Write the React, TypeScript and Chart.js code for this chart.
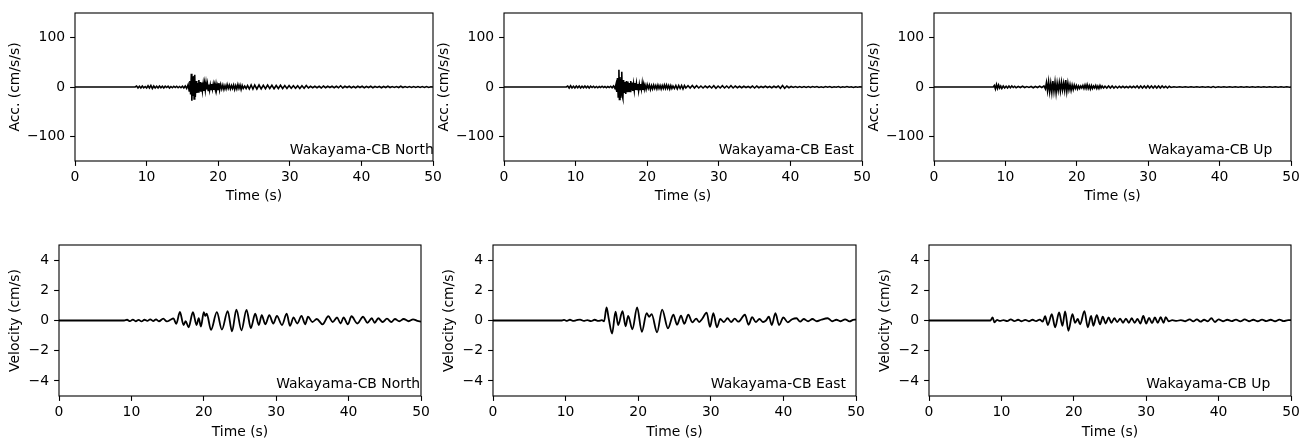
import React, { useEffect, useRef } from 'react';
import { Chart, registerables } from 'chart.js';
Chart.register(...registerables);

const FS = 13.9;
Chart.defaults.font.family = '"DejaVu Sans", sans-serif';
Chart.defaults.font.size = FS;
Chart.defaults.color = '#000';

// ---------- tick values / labels ----------
const timeTicks = [0, 10, 20, 30, 40, 50];
const accTicks = [-100, 0, 100];
const velTicks = [-4, -2, 0, 2, 4];
const stationLabels = ['Wakayama-CB North', 'Wakayama-CB East', 'Wakayama-CB Up'];
const accTitle = 'Acc. (cm/s/s)';
const velTitle = 'Velocity (cm/s)';
const timeTitle = 'Time (s)';
const labelTime = 30;
const accLabelY = -135;
const velLabelY = -4.5;

// ---------- series: [time (s), value] ----------
const accNorth: [number, number][] = [
  [0,0],[8.4,0],[8.6,2],[8.8,-2],[9.0,1.5],[9.2,-2],[9.4,2],[9.6,-1.5],[9.8,1],[10.0,-2],[10.2,2.5],[10.4,-2],[10.6,3],[10.8,-3],[11.0,2],[11.2,-2],[11.4,1.5],[11.6,-2],[11.8,2],[12.0,-1.5],[12.2,1.5],[12.4,-2],[12.6,1.5],[12.8,-1],[13.0,1.5],[13.2,-2],[13.4,1],[13.6,-1.5],[13.8,1.5],[14.0,-1],[14.2,1.5],[14.4,-1.5],[14.6,1],[14.8,-1.5],[15.0,1.5],[15.2,-2],[15.4,2],[15.6,-3],[15.8,5],[15.95,-8],[16.05,12],[16.15,-15],[16.25,27],[16.32,-28],[16.4,20],[16.48,-18],[16.56,22],[16.64,-24],[16.72,25],[16.8,-20],[16.9,12],[17.0,-12],[17.1,8],[17.2,-10],[17.3,14],[17.4,-9],[17.5,10],[17.6,-8],[17.7,9],[17.8,-7],[17.9,6],[18.0,-8],[18.1,7],[18.2,-6],[18.3,8],[18.4,-5],[18.5,6],[18.6,-7],[18.7,5],[18.8,-6],[18.9,4],[19.0,-5],[19.1,6],[19.2,-4],[19.3,5],[19.4,-6],[19.5,4],[19.6,-5],[19.7,6],[19.8,-4],[19.9,3],[20.0,-5],[20.1,8],[20.2,-6],[20.35,5],[20.5,-4],[20.65,4],[20.8,-5],[20.95,3],[21.1,-4],[21.25,5],[21.4,-3],[21.55,4],[21.7,-4],[21.85,3],[22.0,-3],[22.15,4],[22.3,-5],[22.45,3],[22.6,-4],[22.75,5],[22.9,-3],[23.05,4],[23.2,-5],[23.35,3],[23.5,-3],[23.7,2],[23.9,-3],[24.1,3],[24.35,-4],[24.6,4],[24.85,-4],[25.1,4],[25.4,-4],[25.7,4],[26.0,-4],[26.3,3.5],[26.6,-3.5],[26.9,4],[27.2,-3],[27.5,3.5],[27.8,-3.5],[28.1,3],[28.4,-3],[28.7,3.5],[29.0,-3],[29.3,3],[29.6,-3],[29.9,3],[30.2,-2.5],[30.5,2.5],[30.8,-2.5],[31.1,2.5],[31.4,-3],[31.7,2.5],[32.0,-2.5],[32.3,3],[32.6,-2],[32.9,1.5],[33.2,-1.5],[33.5,1.5],[33.8,-1.5],[34.1,1.5],[34.4,-2],[34.7,2],[35.0,-1.5],[35.3,1.5],[35.6,-1],[35.9,1.5],[36.2,-1.5],[36.5,1.5],[36.8,-1.5],[37.1,2.5],[37.4,-2],[37.7,1.5],[38.0,-1],[38.3,1.5],[38.6,-1.5],[38.9,1],[39.2,-1.5],[39.5,1.5],[39.8,-1],[40.1,1.5],[40.4,-1.5],[40.7,1],[41.0,-1],[41.3,1.5],[41.6,-1.5],[41.9,1],[42.2,-1],[42.5,1],[42.8,-1.5],[43.1,1],[43.4,-1],[43.7,1.5],[44.0,-1],[44.3,1],[44.6,-1],[44.9,1],[45.2,-1],[45.5,1.5],[45.8,-1],[46.1,1],[46.4,-1],[46.7,1],[47.0,-1],[47.3,1],[47.6,-1],[47.9,1],[48.2,-1],[48.5,1],[48.8,-1],[49.1,1],[49.4,-1],[49.7,0.5],[50,0]
];

const accEast: [number, number][] = [
  [0,0],[8.7,0],[8.9,2],[9.1,-2],[9.3,2.5],[9.5,-2],[9.7,1.5],[9.9,-2],[10.1,2],[10.3,-1.5],[10.5,2],[10.7,-2],[10.9,1.5],[11.1,-1.5],[11.3,2],[11.5,-1.5],[11.7,1.5],[11.9,-2],[12.1,1.5],[12.3,-1],[12.5,1.5],[12.7,-1.5],[12.9,1],[13.1,-1.5],[13.3,1],[13.5,-1],[13.7,1.5],[13.9,-1],[14.1,1],[14.3,-1.5],[14.5,1],[14.7,-1],[14.9,1.5],[15.1,-1.5],[15.3,2],[15.5,-3],[15.65,6],[15.75,-10],[15.85,18],[15.95,-20],[16.05,35],[16.12,-25],[16.2,20],[16.28,-22],[16.36,15],[16.45,31],[16.52,-18],[16.6,-23],[16.7,14],[16.8,-12],[16.9,10],[17.0,-14],[17.1,12],[17.2,-9],[17.3,11],[17.4,-10],[17.5,8],[17.6,-9],[17.7,12],[17.8,-7],[17.9,9],[18.0,-8],[18.1,6],[18.2,-7],[18.3,8],[18.4,-6],[18.5,7],[18.6,-5],[18.7,6],[18.8,-7],[18.9,5],[19.0,-5],[19.1,6],[19.2,-4],[19.3,8],[19.4,-6],[19.5,5],[19.6,-4],[19.7,4],[19.85,-5],[20.0,5],[20.15,-3],[20.3,4],[20.45,-5],[20.6,3],[20.75,-4],[20.9,4],[21.05,-3],[21.2,3],[21.35,-4],[21.5,4],[21.65,-3],[21.8,3],[21.95,-4],[22.1,3],[22.25,-3],[22.4,4],[22.55,-3],[22.7,4],[22.85,-3],[23.0,3],[23.15,-4],[23.3,3],[23.45,-3],[23.6,2],[23.8,-3],[24.0,3],[24.2,-4],[24.4,3],[24.6,-3],[24.8,3],[25.0,-4],[25.2,3],[25.4,-2],[25.7,2.5],[26.0,-2],[26.3,3],[26.6,-2],[26.9,2.5],[27.2,-2],[27.5,2],[27.8,-2],[28.1,2],[28.4,-1.5],[28.7,2],[29.0,-2],[29.3,2.5],[29.6,-2.5],[29.9,2],[30.2,-2],[30.5,2.5],[30.8,-2],[31.1,2],[31.4,-2],[31.7,2.5],[32.0,-2],[32.3,2],[32.6,-1.5],[32.9,1.5],[33.2,-1.5],[33.5,1.5],[33.8,-1],[34.1,1],[34.4,-1.5],[34.7,2],[35.0,-2],[35.3,2],[35.6,-1.5],[35.9,1],[36.2,-1],[36.5,1.5],[36.8,-1],[37.1,1],[37.4,-1.5],[37.7,1.5],[38.0,-1],[38.3,2],[38.6,-2.5],[38.9,3],[39.2,-2.5],[39.5,2],[39.8,-1.5],[40.1,1],[40.4,-1],[40.7,1],[41.0,-1],[41.3,1],[41.6,-1],[41.9,1],[42.2,-1],[42.5,1],[42.8,-1],[43.1,1],[43.4,-0.5],[43.7,1],[44.0,-1],[44.3,0.5],[44.6,-1],[44.9,1],[45.2,-0.5],[45.5,1],[45.8,-1],[46.1,0.5],[46.4,-0.5],[46.7,1],[47.0,-1],[47.3,0.5],[47.6,-0.5],[47.9,1],[48.2,-0.5],[48.5,0.5],[48.8,-1],[49.1,0.5],[49.4,-0.5],[49.7,0.5],[50,0]
];

const accUp: [number, number][] = [
  [0,0],[8.3,0],[8.45,3],[8.6,-4],[8.75,5],[8.9,-3],[9.05,4],[9.2,-2],[9.35,2],[9.5,-3],[9.7,2],[9.9,-2],[10.1,1.5],[10.3,-2],[10.5,2],[10.7,-1.5],[10.9,2],[11.1,-1],[11.3,1.5],[11.5,-1.5],[11.8,1],[12.1,-1],[12.4,1.5],[12.7,-1],[13.0,1],[13.3,-1],[13.6,1],[13.9,-1.5],[14.2,1],[14.5,-1],[14.8,1.5],[15.1,-1],[15.4,2],[15.6,-4],[15.75,9],[15.9,-8],[16.05,11],[16.2,-10],[16.35,8],[16.5,-11],[16.65,12],[16.8,-9],[16.95,10],[17.1,-12],[17.25,8],[17.4,-7],[17.55,9],[17.7,-8],[17.85,10],[18.0,-6],[18.15,8],[18.3,-7],[18.45,14],[18.6,-9],[18.75,8],[18.9,-6],[19.05,5],[19.2,-7],[19.35,4],[19.5,-5],[19.65,4],[19.8,-3],[19.95,3],[20.1,-4],[20.25,2],[20.4,-3],[20.55,2],[20.7,-2],[20.85,3],[21.0,-3],[21.15,4],[21.3,-3],[21.45,5],[21.6,-3],[21.75,3],[21.9,-4],[22.05,3],[22.2,-3],[22.35,2],[22.5,-2],[22.65,3],[22.8,-3],[22.95,2],[23.1,-3],[23.25,3],[23.4,-2],[23.55,2],[23.75,-2],[23.95,1.5],[24.2,-2],[24.45,2],[24.7,-2],[24.95,2],[25.2,-2],[25.45,1.5],[25.7,-2],[25.95,1.5],[26.2,-1.5],[26.45,1.5],[26.7,-1.5],[26.95,1],[27.2,-1.5],[27.45,1.5],[27.7,-1.5],[27.95,1.5],[28.2,-1.5],[28.45,2],[28.7,-2],[28.95,2],[29.2,-2],[29.45,2],[29.7,-2],[29.95,2.5],[30.2,-2],[30.45,2],[30.7,-2],[30.95,2],[31.2,-2],[31.45,2],[31.7,-2],[31.95,2],[32.2,-1.5],[32.45,1.5],[32.7,-2],[32.95,1.5],[33.2,-1],[33.6,0.5],[34.0,-0.5],[34.4,0.5],[34.8,-0.5],[35.2,0.5],[35.6,-0.5],[36.0,0.5],[36.4,-0.5],[36.8,0.5],[37.2,-0.5],[37.6,0.5],[38.0,-0.5],[38.4,0.5],[38.8,-1],[39.1,1],[39.4,-1],[39.8,0.5],[40.2,-0.5],[40.6,0.5],[41.0,-0.5],[41.4,0.5],[41.8,-0.5],[42.2,0.5],[42.6,-0.5],[43.0,0.5],[43.4,-0.5],[43.8,0.5],[44.2,-0.5],[44.6,0.5],[45.0,-0.5],[45.4,0.5],[45.8,-0.5],[46.2,0.5],[46.6,-0.5],[47.0,0.5],[47.4,-0.5],[47.8,0.5],[48.2,-0.5],[48.6,0.5],[49.0,-0.5],[49.4,0.5],[49.8,-0.5],[50,0]
];

const velNorth: [number, number][] = [
  [0,0],[9.0,0],[9.4,0.05],[9.8,-0.04],[10.2,0.06],[10.6,-0.05],[11.0,0.04],[11.4,-0.06],[11.8,0.05],[12.2,-0.03],[12.6,0.08],[13.0,-0.04],[13.4,0.07],[13.8,-0.05],[14.4,0.12],[14.9,-0.06],[15.4,0.05],[15.8,0.14],[16.2,-0.22],[16.7,0.57],[17.2,-0.3],[17.5,-0.05],[17.9,-0.45],[18.5,0.55],[19.0,-0.3],[19.3,0.15],[19.6,-0.4],[20.0,0.55],[20.2,0.3],[20.4,0.45],[21.0,-0.62],[21.8,0.55],[22.5,-0.6],[23.3,0.62],[23.9,-0.72],[24.5,0.72],[25.2,-0.65],[25.9,0.7],[26.5,-0.5],[27.1,0.45],[27.6,-0.3],[28.0,0.35],[28.5,-0.25],[29.05,0.35],[29.6,-0.2],[30.1,0.3],[30.8,-0.3],[31.45,0.45],[31.9,-0.35],[32.4,0.2],[32.9,-0.2],[33.5,0.3],[34.0,-0.25],[34.4,0.25],[35.0,-0.1],[35.6,0.1],[36.4,-0.25],[37.2,0.28],[37.8,-0.1],[38.4,0.2],[38.9,-0.2],[39.3,0.2],[39.9,-0.25],[40.4,0.28],[41.2,-0.2],[42.0,0.25],[42.6,-0.15],[43.2,0.15],[43.6,-0.15],[44.1,0.15],[44.7,-0.1],[45.3,0.12],[45.9,-0.1],[46.4,0.1],[47.0,-0.05],[47.6,0.1],[48.3,-0.05],[48.9,0.08],[49.5,-0.02],[50,-0.08]
];

const velEast: [number, number][] = [
  [0,0],[9.5,0],[9.8,0.04],[10.2,-0.03],[10.6,0.05],[11.0,-0.03],[11.5,0.02],[12.0,0.06],[12.5,-0.03],[13.0,0.03],[13.5,-0.04],[14.0,0.05],[14.5,-0.03],[15.0,0.02],[15.3,-0.05],[15.64,0.86],[15.95,0.1],[16.4,-0.86],[16.88,0.58],[17.24,-0.3],[17.84,0.62],[18.26,-0.38],[18.62,0.3],[19.2,-0.58],[19.85,0.86],[20.5,-0.75],[21.16,0.48],[21.5,0.25],[21.85,0.42],[22.6,-0.78],[23.3,0.72],[24.1,-0.52],[24.85,0.38],[25.35,-0.28],[25.9,0.32],[26.35,-0.22],[26.9,0.38],[27.45,-0.12],[28.0,0.12],[28.4,-0.1],[28.8,0.1],[29.43,0.52],[29.89,-0.42],[30.35,0.48],[30.85,-0.45],[31.3,0.1],[31.8,-0.1],[32.3,0.15],[32.8,-0.1],[33.3,0.12],[33.8,-0.08],[34.7,0.38],[35.2,-0.28],[35.7,0.22],[36.2,-0.1],[36.7,0.1],[37.2,-0.1],[37.6,0.0],[38.0,0.25],[38.4,-0.3],[38.9,0.48],[39.4,-0.3],[40.0,0.2],[40.6,-0.12],[41.2,0.08],[41.8,0.15],[42.3,-0.08],[42.8,0.1],[43.4,-0.05],[44.0,0.1],[44.6,-0.05],[45.2,0.05],[46.1,0.15],[46.7,-0.05],[47.3,0.05],[47.9,-0.05],[48.5,0.08],[49.1,-0.06],[49.6,0.04],[50,0.06]
];

const velUp: [number, number][] = [
  [0,0],[8.5,0],[8.78,0.2],[9.05,-0.12],[9.4,0.04],[9.8,-0.03],[10.3,0.03],[10.8,-0.04],[11.3,0.08],[11.8,-0.04],[12.3,0.05],[12.8,-0.05],[13.3,0.04],[13.8,-0.05],[14.3,0.05],[14.8,-0.04],[15.3,0.06],[15.7,-0.08],[16.04,0.28],[16.41,-0.3],[16.96,0.42],[17.42,-0.45],[17.97,0.53],[18.43,-0.35],[18.8,0.6],[19.26,-0.68],[19.81,0.42],[20.18,-0.15],[20.55,0.1],[20.87,-0.25],[21.47,0.62],[21.93,-0.45],[22.39,0.3],[22.7,-0.35],[23.17,0.35],[23.63,-0.25],[24.0,0.25],[24.4,-0.2],[24.8,0.2],[25.2,-0.15],[25.6,0.15],[26.0,-0.1],[26.4,0.12],[26.8,-0.15],[27.2,0.12],[27.6,-0.15],[28.0,0.15],[28.4,-0.15],[28.8,0.1],[29.2,-0.2],[29.6,0.3],[30.0,-0.2],[30.4,0.18],[30.8,-0.18],[31.2,0.2],[31.6,-0.15],[32.0,0.22],[32.4,-0.15],[32.7,0.22],[33.1,-0.05],[33.6,0.02],[34.2,-0.03],[34.8,0.03],[35.4,-0.05],[36.0,0.08],[36.5,-0.06],[37.0,0.08],[37.5,-0.08],[38.0,0.05],[38.5,-0.05],[39.0,0.15],[39.5,-0.1],[40.0,0.08],[40.6,-0.05],[41.2,0.05],[41.8,-0.04],[42.4,0.06],[43.0,-0.06],[43.6,0.07],[44.2,-0.05],[44.8,0.05],[45.4,-0.05],[46.0,0.06],[46.6,-0.04],[47.2,0.05],[47.8,-0.05],[48.4,0.06],[49.0,-0.04],[49.6,0.03],[50,0.02]
];

type PanelSpec = {
  series: [number, number][];
  label: string;
  yTitle: string;
  yRange: [number, number];
  yTicks: number[];
  labelY: number;
  smooth: boolean;
  lineWidth: number;
  L: number; R: number; T: number; B: number;
  yW: number; xTickPad: number; xTitlePad: number;
};

const fmt = (v: number | string) => {
  const n = Number(v);
  return n < 0 ? '\u2212' + Math.abs(n) : String(n);
};

const PAD_TOP = 20;
const PAD_RIGHT = 16;
const X_H = 45;

function Panel({ p }: { p: PanelSpec }) {
  const ref = useRef<HTMLCanvasElement | null>(null);
  const width = p.yW + (p.R - p.L) + PAD_RIGHT;
  const height = PAD_TOP + (p.B - p.T) + X_H;

  useEffect(() => {
    if (!ref.current) return;
    const frame = {
      id: 'frameAndLabel',
      afterDraw(chart: any) {
        const { ctx, chartArea: a } = chart;
        ctx.save();
        ctx.strokeStyle = '#000';
        ctx.lineWidth = 1.1;
        ctx.strokeRect(a.left, a.top, a.right - a.left, a.bottom - a.top);
        const xs = chart.scales.x;
        const ys = chart.scales.y;
        ctx.fillStyle = '#000';
        ctx.font = `${FS}px "DejaVu Sans", sans-serif`;
        ctx.textAlign = 'left';
        ctx.textBaseline = 'alphabetic';
        ctx.fillText(p.label, xs.getPixelForValue(labelTime), ys.getPixelForValue(p.labelY));
        ctx.restore();
      },
    };
    const gridOpts = {
      drawOnChartArea: false,
      drawTicks: true,
      tickLength: 4.9,
      tickWidth: 1.1,
      tickColor: '#000',
    };
    const chart = new Chart(ref.current, {
      type: 'line',
      data: {
        datasets: [
          {
            data: p.series.map(([x, y]) => ({ x, y })),
            borderColor: '#000',
            borderWidth: p.lineWidth,
            pointRadius: 0,
            fill: false,
            tension: 0,
            cubicInterpolationMode: p.smooth ? 'monotone' : 'default',
          } as any,
        ],
      },
      options: {
        animation: false,
        responsive: false,
        devicePixelRatio: 1,
        events: [],
        layout: { padding: { top: PAD_TOP, right: PAD_RIGHT, left: 0, bottom: 0 } },
        plugins: { legend: { display: false }, tooltip: { enabled: false } },
        scales: {
          x: {
            type: 'linear',
            min: 0,
            max: 50,
            afterBuildTicks: (s: any) => {
              s.ticks = timeTicks.map((v) => ({ value: v }));
            },
            afterFit: (s: any) => {
              s.height = X_H;
            },
            grid: gridOpts,
            border: { display: false },
            ticks: { color: '#000', padding: p.xTickPad, maxRotation: 0, autoSkip: false, callback: fmt },
            title: { display: true, text: timeTitle, color: '#000', padding: { top: 0, bottom: p.xTitlePad } },
          },
          y: {
            type: 'linear',
            min: p.yRange[0],
            max: p.yRange[1],
            afterBuildTicks: (s: any) => {
              s.ticks = p.yTicks.map((v) => ({ value: v }));
            },
            afterFit: (s: any) => {
              s.width = p.yW;
            },
            grid: gridOpts,
            border: { display: false },
            ticks: { color: '#000', padding: 5, autoSkip: false, callback: fmt },
            title: { display: true, text: p.yTitle, color: '#000', padding: { top: 0, bottom: 0 } },
          },
        },
      } as any,
      plugins: [frame],
    });
    return () => chart.destroy();
  }, []);

  return (
    <canvas
      ref={ref}
      width={width}
      height={height}
      style={{ position: 'absolute', left: p.L - p.yW, top: p.T - PAD_TOP, width, height }}
    />
  );
}

const accSeries = [accNorth, accEast, accUp];
const velSeries = [velNorth, velEast, velUp];

const topBoxes = [
  { L: 75, R: 433 },
  { L: 504, R: 862 },
  { L: 934, R: 1291 },
];
const bottomBoxes = [
  { L: 59, R: 421 },
  { L: 493, R: 856 },
  { L: 929, R: 1291 },
];

export default function App() {
  const panels: PanelSpec[] = [];
  for (let i = 0; i < 3; i++) {
    panels.push({
      series: accSeries[i],
      label: stationLabels[i],
      yTitle: accTitle,
      yRange: [-150, 150],
      yTicks: accTicks,
      labelY: accLabelY,
      smooth: false,
      lineWidth: 1.6,
      L: topBoxes[i].L, R: topBoxes[i].R, T: 13, B: 161,
      yW: 68, xTickPad: 3, xTitlePad: 1.7,
    });
  }
  for (let i = 0; i < 3; i++) {
    panels.push({
      series: velSeries[i],
      label: stationLabels[i],
      yTitle: velTitle,
      yRange: [-5, 5],
      yTicks: velTicks,
      labelY: velLabelY,
      smooth: true,
      lineWidth: 1.8,
      L: bottomBoxes[i].L, R: bottomBoxes[i].R, T: 245, B: 396,
      yW: 52, xTickPad: 3.5, xTitlePad: 0.2,
    });
  }
  return (
    <div style={{ position: 'absolute', left: 0, top: 0, width: 1311, height: 441, background: '#fff', overflow: 'hidden' }}>
      {panels.map((p, i) => (
        <Panel key={i} p={p} />
      ))}
    </div>
  );
}
